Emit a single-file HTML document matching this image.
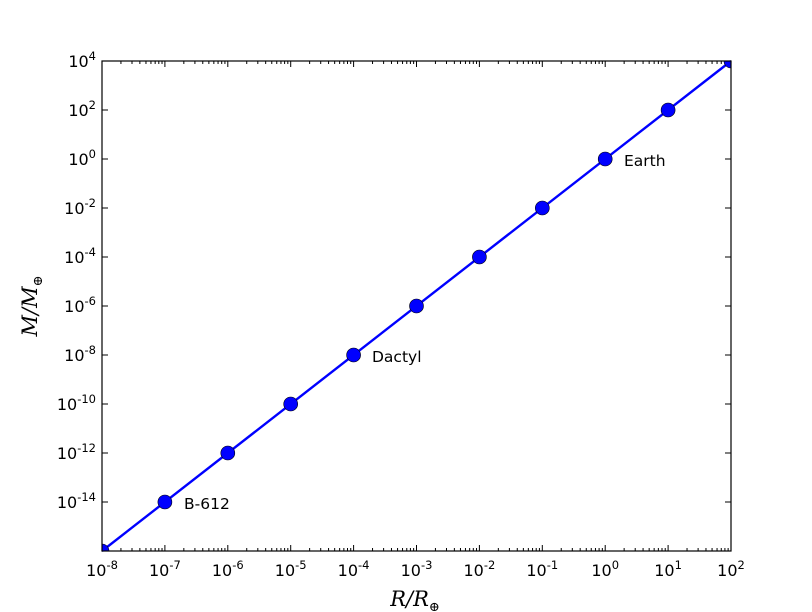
<!DOCTYPE html>
<html><head><meta charset="utf-8"><style>body{margin:0;background:#fff}svg{display:block}</style></head>
<body>
<svg id="s" width="812" height="612" xmlns="http://www.w3.org/2000/svg" font-family="DejaVu Sans, Liberation Sans, sans-serif">
<defs><clipPath id="c"><rect x="102" y="61" width="629" height="490"/></clipPath></defs>
<rect width="812" height="612" fill="#fff"/>
<g id="t" stroke="#000" stroke-width="1"></g>
<polyline points="102,551 731,61" stroke="#0000ff" stroke-width="2.4" fill="none"/>
<g id="p" fill="#0000ff" stroke="#000" stroke-width="0.6" clip-path="url(#c)"></g>
<rect x="102" y="61" width="629" height="490" fill="none" stroke="#000" stroke-width="1.2"/>
<g id="l" font-size="16" fill="#000"></g>
<text x="184" y="509" font-size="15.5">B-612</text>
<text x="372" y="362" font-size="15.5">Dactyl</text>
<text x="624" y="166" font-size="15.5">Earth</text>
<text x="415" y="606" font-size="21" font-style="italic" font-family="DejaVu Serif, Liberation Serif, serif" text-anchor="middle">R/R<tspan font-size="13" dy="5" font-style="normal">⊕</tspan></text>
<text transform="translate(37,306) rotate(-90)" font-size="21" font-style="italic" font-family="DejaVu Serif, Liberation Serif, serif" text-anchor="middle">M/M<tspan font-size="13" dy="5" font-style="normal">⊕</tspan></text>
</svg>
<script>
var t=document.getElementById('t'),p=document.getElementById('p'),l=document.getElementById('l'),ns='http://www.w3.org/2000/svg';
function ln(x1,y1,x2,y2){var e=document.createElementNS(ns,'line');e.setAttribute('x1',x1);e.setAttribute('y1',y1);e.setAttribute('x2',x2);e.setAttribute('y2',y2);t.appendChild(e);}
function tx(x,y,s,a){var e=document.createElementNS(ns,'text');e.setAttribute('x',x);e.setAttribute('y',y);e.setAttribute('text-anchor',a);e.innerHTML=s;l.appendChild(e);}
var dx=62.9;
for(var i=0;i<=10;i++){var x=102+i*dx;ln(x,551,x,545);ln(x,61,x,67);
 tx(x,576,'10<tspan font-size="11.5" dy="-7">'+(i-8)+'</tspan>','middle');
 var c=document.createElementNS(ns,'circle');c.setAttribute('cx',x);c.setAttribute('cy',551-i*49);c.setAttribute('r',7);p.appendChild(c);
 if(i<10)for(var k=2;k<10;k++){var xx=x+Math.log10(k)*dx;ln(xx,551,xx,548);ln(xx,61,xx,64);}}
for(var j=0;j<=10;j++){var y=551-j*49;ln(102,y,108,y);ln(731,y,725,y);
 var e=-16+2*j; if(e>-16) tx(96,y+6,'10<tspan font-size="11.5" dy="-7">'+e+'</tspan>','end');}
</script>
</body></html>
